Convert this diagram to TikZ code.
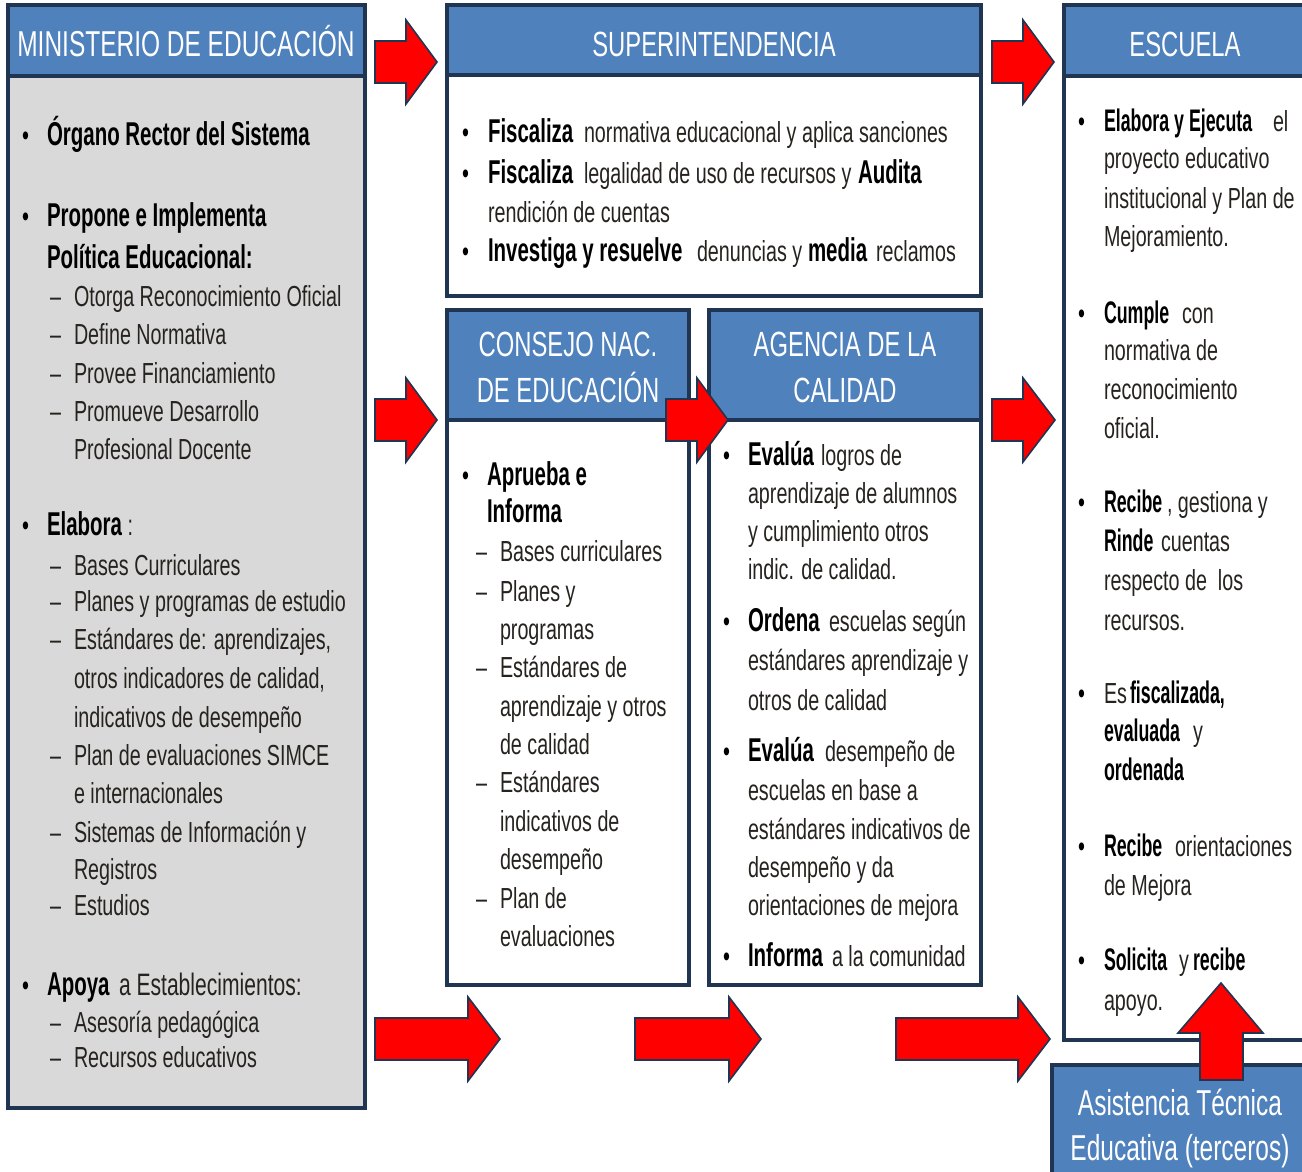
\documentclass[tikz,border=0pt]{standalone}
\usepackage{fontspec}
\setmainfont{Liberation Sans}[FakeStretch=0.68, BoldFeatures={FakeStretch=0.62}]
\newfontfamily\escbold{Liberation Sans Bold}[FakeStretch=0.57]
\definecolor{navy}{HTML}{1F3552}
\definecolor{hblue}{HTML}{4F81BD}
\definecolor{gbody}{HTML}{D9D9D9}
\definecolor{txtc}{HTML}{26231E}
\definecolor{ared}{HTML}{FF0000}
\newcounter{tln}
\newcommand\tl[3]{\stepcounter{tln}\node[txt] (t\arabic{tln}) at (#1,#2) {#3};}
\newcommand\bul[2]{\stepcounter{tln}\node[txt] (b\arabic{tln}) at (#1,#2) {\color{black}•};}
\newcommand\dsh[2]{\stepcounter{tln}\node[txt] (d\arabic{tln}) at (#1,#2) {–};}
\newcommand\B[1]{{\fontsize{16.5}{18}\selectfont\bfseries\color{black}#1}}
\newcommand\Bs[1]{{\fontsize{15.6}{17}\selectfont\escbold\color{black}#1}}
\newcommand\rarrow[4]{\draw[arr] (#1,#4-21) -- (#2,#4-21) -- (#2,#4-42) -- (#3,#4) -- (#2,#4+42) -- (#2,#4+21) -- (#1,#4+21) -- cycle;}
\tikzset{
  txt/.style={anchor=base west, inner sep=0pt, outer sep=0pt, font=\fontsize{14.5}{17}\selectfont, text=txtc},
  hdr/.style={anchor=base, inner sep=0pt, text=white, font=\fontsize{17.5}{20}\selectfont},
  boxbody/.style={draw=navy, line width=1.6pt},
  boxhead/.style={fill=hblue, draw=navy, line width=1.6pt},
  arr/.style={fill=ared, draw=navy, line width=0.8pt, line join=miter}
}
\begin{document}
\begin{tikzpicture}[x=0.5pt,y=-0.5pt]
\useasboundingbox (0,0) rectangle (1302,1172);
\begin{scope}
\clip (0,0) rectangle (1302,1172);
% boxes
\filldraw[boxbody, fill=gbody] (8,5) rectangle (365,1108);
\filldraw[boxhead] (8,5) rectangle (365,76);
\filldraw[boxbody, fill=white] (447,5) rectangle (981,296);
\filldraw[boxhead] (447,5) rectangle (981,75);
\filldraw[boxbody, fill=white] (447,310) rectangle (689,985);
\filldraw[boxhead] (447,310) rectangle (689,420);
\filldraw[boxbody, fill=white] (709,310) rectangle (981,985);
\filldraw[boxhead] (709,310) rectangle (981,420);
\filldraw[boxbody, fill=white] (1064,5) rectangle (1330,1040);
\filldraw[boxhead] (1064,5) rectangle (1330,76);
\filldraw[boxhead] (1052,1065) rectangle (1330,1200);
% headers
\node[hdr, font=\fontsize{18}{20}\selectfont] (hmin) at (186,57) {MINISTERIO DE EDUCACIÓN};
\node[hdr] (hsup) at (714,57) {SUPERINTENDENCIA};
\node[hdr] (hesc) at (1185,57) {ESCUELA};
\node[hdr] (hcon1) at (568,356) {CONSEJO NAC.};
\node[hdr] (hcon2) at (568,402) {DE EDUCACIÓN};
\node[hdr] (hage1) at (845,356) {AGENCIA DE LA};
\node[hdr] (hage2) at (845,402) {CALIDAD};
\node[hdr, font=\fontsize{18}{20}\selectfont] (hasi1) at (1180,1115) {Asistencia Técnica};
\node[hdr, font=\fontsize{18}{20}\selectfont] (hasi2) at (1180,1160) {Educativa (terceros)};
% Ministerio
\bul{22}{146}\tl{47}{146}{\B{Órgano Rector del Sistema}}
\bul{22}{227}\tl{47}{227}{\B{Propone e Implementa}}
\tl{47}{268}{\B{Política Educacional:}}
\dsh{50}{306}\tl{74}{306}{Otorga Reconocimiento Oficial}
\dsh{50}{344}\tl{74}{344}{Define Normativa}
\dsh{50}{383}\tl{74}{383}{Provee Financiamiento}
\dsh{50}{421}\tl{74}{421}{Promueve Desarrollo}
\tl{74}{459}{Profesional Docente}
\bul{22}{535}\tl{47}{535}{\B{Elabora} :}
\dsh{50}{575}\tl{74}{575}{Bases Curriculares}
\dsh{50}{611}\tl{74}{611}{Planes y programas de estudio}
\dsh{50}{649}\tl{74}{649}{Estándares de: aprendizajes,}
\tl{74}{688}{otros indicadores de calidad,}
\tl{74}{727}{indicativos de desempeño}
\dsh{50}{765}\tl{74}{765}{Plan de evaluaciones SIMCE}
\tl{74}{803}{e internacionales}
\dsh{50}{842}\tl{74}{842}{Sistemas de Información y}
\tl{74}{879}{Registros}
\dsh{50}{915}\tl{74}{915}{Estudios}
\bul{22}{995}\tl{47}{995}{\B{Apoya}}\tl{119}{995}{\fontsize{15.5}{18}\selectfont a Establecimientos:}
\dsh{50}{1032}\tl{74}{1032}{Asesoría pedagógica}
\dsh{50}{1067}\tl{74}{1067}{Recursos educativos}
% Superintendencia
\bul{462}{142}\tl{488}{142}{\B{Fiscaliza}}\tl{584}{142}{normativa educacional y aplica sanciones}
\bul{462}{184}\tl{488}{184}{\B{Fiscaliza}}\tl{584}{184}{legalidad de uso de recursos y}\tl{858}{184}{\B{Audita}}
\tl{488}{222}{rendición de cuentas}
\bul{462}{262}\tl{488}{262}{\B{Investiga y resuelve}}\tl{697}{262}{denuncias y}\tl{808}{262}{\B{media}}\tl{876}{262}{reclamos}
% Consejo
\bul{462}{485}\tl{487}{485}{\B{Aprueba e}}
\tl{487}{522}{\B{Informa}}
\dsh{476}{561}\tl{500}{561}{Bases curriculares}
\dsh{476}{601}\tl{500}{601}{Planes y}
\tl{500}{639}{programas}
\dsh{476}{677}\tl{500}{677}{Estándares de}
\tl{500}{716}{aprendizaje y otros}
\tl{500}{754}{de calidad}
\dsh{476}{792}\tl{500}{792}{Estándares}
\tl{500}{831}{indicativos de}
\tl{500}{869}{desempeño}
\dsh{476}{908}\tl{500}{908}{Plan de}
\tl{500}{946}{evaluaciones}
% Agencia
\bul{723}{465}\tl{748}{465}{\B{Evalúa}}\tl{821}{465}{logros de}
\tl{748}{503}{aprendizaje de alumnos}
\tl{748}{541}{y cumplimiento otros}
\tl{748}{579}{indic. de calidad.}
\bul{723}{631}\tl{748}{631}{\B{Ordena}}\tl{829}{631}{escuelas según}
\tl{748}{670}{estándares aprendizaje y}
\tl{748}{710}{otros de calidad}
\bul{723}{761}\tl{748}{761}{\B{Evalúa}}\tl{825}{761}{desempeño de}
\tl{748}{800}{escuelas en base a}
\tl{748}{839}{estándares indicativos de}
\tl{748}{877}{desempeño y da}
\tl{748}{915}{orientaciones de mejora}
\bul{723}{966}\tl{748}{966}{\B{Informa}}\tl{832}{966}{a la comunidad}
% Escuela
\bul{1078}{132}\tl{1104}{132}{\Bs{Elabora y Ejecuta}}\tl{1273}{132}{el}
\tl{1104}{169}{proyecto educativo}
\tl{1104}{208}{institucional y Plan de}
\tl{1104}{247}{Mejoramiento.}
\bul{1078}{323}\tl{1104}{323}{\Bs{Cumple}}\tl{1182}{323}{con}
\tl{1104}{360}{normativa de}
\tl{1104}{399}{reconocimiento}
\tl{1104}{438}{oficial.}
\bul{1078}{512}\tl{1104}{512}{\Bs{Recibe}}\tl{1167}{512}{, gestiona y}
\tl{1104}{551}{\Bs{Rinde}}\tl{1161}{551}{cuentas}
\tl{1104}{590}{respecto de\ \ los}
\tl{1104}{630}{recursos.}
\bul{1078}{703}\tl{1104}{703}{Es}\tl{1130}{703}{\Bs{fiscalizada,}}
\tl{1104}{741}{\Bs{evaluada}}\tl{1193}{741}{y}
\tl{1104}{780}{\Bs{ordenada}}
\bul{1078}{856}\tl{1104}{856}{\Bs{Recibe}}\tl{1175}{856}{orientaciones}
\tl{1104}{895}{de Mejora}
\bul{1078}{970}\tl{1104}{970}{\Bs{Solicita}}\tl{1179}{970}{y}\tl{1193}{970}{\Bs{recibe}}
\tl{1104}{1010}{apoyo.}
% arrows
\rarrow{375}{406}{437}{62}
\rarrow{992}{1023}{1054}{62}
\rarrow{375}{406}{437}{420}
\rarrow{666}{697}{728}{420}
\rarrow{992}{1023}{1055}{420}
\rarrow{375}{468}{500}{1039}
\rarrow{635}{729}{761}{1039}
\rarrow{896}{1018}{1050}{1039}
\draw[arr] (1200,1080) -- (1200,1033) -- (1178,1033) -- (1221,983) -- (1263,1033) -- (1243,1033) -- (1243,1080) -- cycle;
\end{scope}
\end{tikzpicture}
\end{document}
